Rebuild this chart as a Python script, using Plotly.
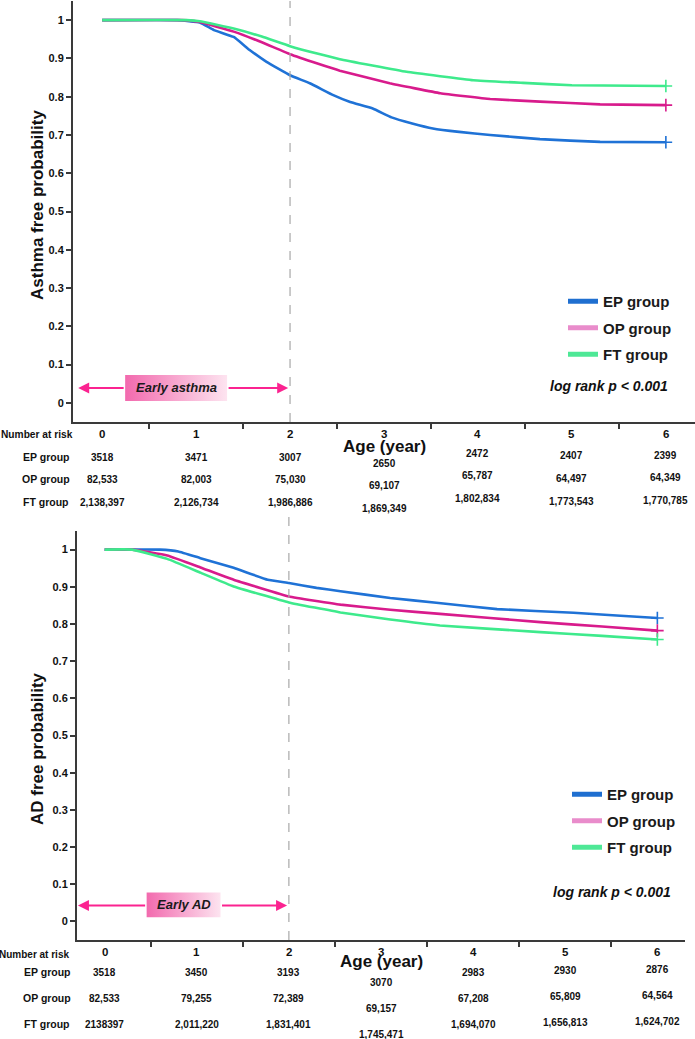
import plotly.graph_objects as go

W, H = 695, 1039
FONT = "Liberation Sans, Arial, sans-serif"

groups = ["EP group", "OP group", "FT group"]
line_colors = ["#1f72d6", "#d81b8c", "#3eea8c"]
legend_colors = ["#1f6fd0", "#e98ccb", "#4ee896"]
risk_times = [0, 1, 2, 3, 4, 5, 6]

# ---- asthma panel
asthma_ep_t = [0, 0.8, 1.04, 1.19, 1.4, 1.57, 1.75, 2.0, 2.21, 2.46, 2.64, 2.88, 3.08, 3.3, 3.52, 3.8, 4.13, 4.66, 5.3, 6.0]
asthma_ep_s = [1, 1, 0.994, 0.974, 0.956, 0.922, 0.891, 0.856, 0.835, 0.804, 0.786, 0.769, 0.746, 0.730, 0.717, 0.708, 0.700, 0.689, 0.682, 0.681]
asthma_op_t = [0, 0.85, 1.04, 1.4, 1.7, 2.0, 2.3, 2.53, 3.06, 3.6, 4.13, 4.66, 5.3, 6.0]
asthma_op_s = [1, 1, 0.995, 0.970, 0.942, 0.911, 0.886, 0.868, 0.835, 0.809, 0.794, 0.787, 0.780, 0.778]
asthma_ft_t = [0, 0.9, 1.04, 1.4, 1.7, 2.0, 2.3, 2.53, 3.24, 3.95, 4.48, 5.0, 6.0]
asthma_ft_s = [1, 1, 0.997, 0.978, 0.957, 0.932, 0.912, 0.898, 0.865, 0.843, 0.836, 0.830, 0.828]

asthma_risk_ep = ["3518", "3471", "3007", "2650", "2472", "2407", "2399"]
asthma_risk_op = ["82,533", "82,003", "75,030", "69,107", "65,787", "64,497", "64,349"]
asthma_risk_ft = ["2,138,397", "2,126,734", "1,986,886", "1,869,349", "1,802,834", "1,773,543", "1,770,785"]

# ---- AD panel
ad_ep_t = [0, 0.6, 0.8, 1.04, 1.4, 1.77, 2.0, 2.3, 2.56, 3.1, 3.6, 4.26, 5.09, 5.6, 6.0]
ad_ep_s = [1, 1, 0.995, 0.977, 0.951, 0.919, 0.910, 0.897, 0.888, 0.870, 0.857, 0.840, 0.830, 0.822, 0.816]
ad_op_t = [0, 0.3, 0.68, 1.04, 1.4, 2.0, 2.56, 3.1, 3.64, 4.73, 5.4, 6.0]
ad_op_s = [1, 1, 0.984, 0.952, 0.919, 0.874, 0.852, 0.838, 0.827, 0.805, 0.793, 0.782]
ad_ft_t = [0, 0.3, 0.68, 1.04, 1.4, 2.0, 2.56, 3.1, 3.64, 4.73, 5.4, 6.0]
ad_ft_s = [1, 1, 0.975, 0.938, 0.901, 0.858, 0.831, 0.812, 0.796, 0.778, 0.768, 0.758]

ad_risk_ep = ["3518", "3450", "3193", "3070", "2983", "2930", "2876"]
ad_risk_op = ["82,533", "79,255", "72,389", "69,157", "67,208", "65,809", "64,564"]
ad_risk_ft = ["2138397", "2,011,220", "1,831,401", "1,745,471", "1,694,070", "1,656,813", "1,624,702"]


def py(px):
    return 1 - px / H


def pxx(px):
    return px / W


def txt(x, y, text, size, xref="paper", xanchor="center", **font_kw):
    return dict(x=x, y=y, xref=xref, yref="paper", xanchor=xanchor, yanchor="middle",
                text=text, showarrow=False,
                font=dict(family=FONT, size=size, color="#111", weight="bold", **font_kw))


fig = go.Figure()
annotations = []
shapes = []

panels = [
    dict(xa="x", ya="y", leg="legend",
         curves=[(asthma_ep_t, asthma_ep_s), (asthma_op_t, asthma_op_s), (asthma_ft_t, asthma_ft_s)],
         risk=[asthma_risk_ep, asthma_risk_op, asthma_risk_ft],
         ytitle="Asthma free probability", ytitle_y=205, label="Early asthma",
         arrow=(-0.255, 1.98, 0.039), box=(0.245, 1.33, 0.005, 0.073),
         logrank=(670, 386), dash_top=1.0,
         nar_y=434, nar_x=75, nar_size=10.2, tick_y=434, age_y=446, grp_x=46,
         rows=[457, 479, 502], col_shift=[0, 0, 0, 6.5, -4, -1, -1.5]),
    dict(xa="x2", ya="y2", leg="legend2",
         curves=[(ad_ep_t, ad_ep_s), (ad_op_t, ad_op_s), (ad_ft_t, ad_ft_s)],
         risk=[ad_risk_ep, ad_risk_op, ad_risk_ft],
         ytitle="AD free probability", ytitle_y=749, label="Early AD",
         arrow=(-0.29, 1.98, 0.043), box=(0.456, 1.258, 0.011, 0.078),
         logrank=(673, 892), dash_top=1.05,
         nar_y=954, nar_x=71, nar_size=10, tick_y=952, age_y=961, grp_x=47,
         rows=[972, 998, 1024], col_shift=[0, 0, 0, 10, 0, -2, -3]),
]

for p in panels:
    xa, ya = p["xa"], p["ya"]
    # survival curves
    for (t, s), g, c in zip(p["curves"], groups, line_colors):
        fig.add_trace(go.Scatter(x=t, y=s, mode="lines", xaxis=xa, yaxis=ya,
                                 line=dict(color=c, width=2.6, shape="spline", smoothing=0.3),
                                 showlegend=False, hoverinfo="skip"))
        fig.add_trace(go.Scatter(x=[t[-1]], y=[s[-1]], mode="markers", xaxis=xa, yaxis=ya,
                                 marker=dict(symbol="cross-thin", size=9, line=dict(color=c, width=1.6)),
                                 showlegend=False, hoverinfo="skip"))
    # legend entries
    for g, c in zip(groups, legend_colors):
        fig.add_trace(go.Scatter(x=[None], y=[None], mode="lines", xaxis=xa, yaxis=ya,
                                 line=dict(color=c, width=5), name=g, legend=p["leg"],
                                 legendgroup=p["leg"] + g))
    # gradient label box
    x0, x1, y0, y1 = p["box"]
    fig.add_trace(go.Scatter(x=[x0, x1, x1, x0, x0], y=[y0, y0, y1, y1, y0], mode="lines",
                             xaxis=xa, yaxis=ya, fill="toself", line=dict(width=0),
                             fillgradient=dict(type="horizontal",
                                               colorscale=[[0, "#f26aae"], [1, "#fde4f0"]]),
                             showlegend=False, hoverinfo="skip"))
    # double arrow (two halves, outside the box)
    a_left, a_right, a_y = p["arrow"]
    for tip, tail in [(a_left, x0), (a_right, x1)]:
        annotations.append(dict(x=tip, y=a_y, ax=tail, ay=a_y, xref=xa, yref=ya,
                                axref=xa, ayref=ya, text="", showarrow=True,
                                arrowhead=2, arrowsize=1.1, arrowwidth=2, arrowcolor="#fb2390"))
    annotations.append(dict(x=(x0 + x1) / 2, y=(y0 + y1) / 2, xref=xa, yref=ya, text=p["label"],
                            showarrow=False,
                            font=dict(family=FONT, size=13, color="#1a1a1a", weight="bold", style="italic")))
    # dashed line at age 2
    shapes.append(dict(type="line", xref=xa, yref=ya + " domain", x0=2, x1=2, y0=0, y1=p["dash_top"],
                       line=dict(color="#a8a8a8", width=1.2, dash="dash")))
    # log rank
    lx, ly = p["logrank"]
    annotations.append(txt(pxx(lx), py(ly), "log rank p &lt; 0.001", 14, xanchor="right", style="italic"))
    # y title
    yt = txt(pxx(37), py(p["ytitle_y"]), p["ytitle"], 17)
    yt["textangle"] = -90
    annotations.append(yt)
    # number at risk table
    annotations.append(txt(pxx(p["nar_x"]), py(p["nar_y"]), "Number at risk", p["nar_size"], xanchor="right"))
    for tt in risk_times:
        annotations.append(txt(tt, py(p["tick_y"]), str(tt), 11.5, xref=xa))
    annotations.append(txt(3, py(p["age_y"]), "Age (year)", 17, xref=xa))
    for g, row_y, counts in zip(groups, p["rows"], p["risk"]):
        annotations.append(txt(pxx(p["grp_x"]), py(row_y), g, 10.5))
        for tt, n, sh in zip(risk_times, counts, p["col_shift"]):
            annotations.append(txt(tt, py(row_y + sh), n, 10, xref=xa))

yticks = [i / 10 for i in range(11)]
yticktext = ["0", "0.1", "0.2", "0.3", "0.4", "0.5", "0.6", "0.7", "0.8", "0.9", "1"]
half_years = [0.5, 1.5, 2.5, 3.5, 4.5, 5.5]

xstyle = dict(showline=True, linecolor="#3a3a3a", linewidth=2, ticks="outside", ticklen=5,
              tickwidth=1.5, tickcolor="#3a3a3a", tickvals=half_years, showticklabels=False,
              showgrid=False, zeroline=False)
ystyle = dict(showline=True, linecolor="#3a3a3a", linewidth=2, ticks="outside", ticklen=5,
              tickwidth=1.5, tickcolor="#3a3a3a", tickvals=yticks, ticktext=yticktext,
              tickfont=dict(family=FONT, size=11, color="#111", weight="bold"),
              showgrid=False, zeroline=False, range=[-0.05, 1.05])

legend_style = dict(font=dict(family=FONT, size=15, color="#1a1a1a", weight="bold"),
                    bgcolor="rgba(0,0,0,0)", tracegroupgap=4, itemwidth=30,
                    xanchor="left", yanchor="top")

fig.update_layout(
    width=W, height=H,
    margin=dict(l=0, r=0, t=0, b=0),
    paper_bgcolor="white", plot_bgcolor="white",
    xaxis=dict(xstyle, domain=[pxx(73), 1.0], range=[-0.31, 6.31], anchor="y"),
    yaxis=dict(ystyle, domain=[py(422), py(1)], anchor="x"),
    xaxis2=dict(xstyle, domain=[pxx(77), pxx(685)], range=[-0.3, 6.3], anchor="y2"),
    yaxis2=dict(ystyle, domain=[py(940), py(531)], anchor="x2"),
    legend=dict(legend_style, x=pxx(563), y=py(285)),
    legend2=dict(legend_style, x=pxx(567), y=py(778)),
    annotations=annotations,
    shapes=shapes,
)

# the page's default 8px body margin would shift the whole figure
fig.write_html("out.html", config={"displayModeBar": False},
               post_script="document.body.style.margin='0';")
